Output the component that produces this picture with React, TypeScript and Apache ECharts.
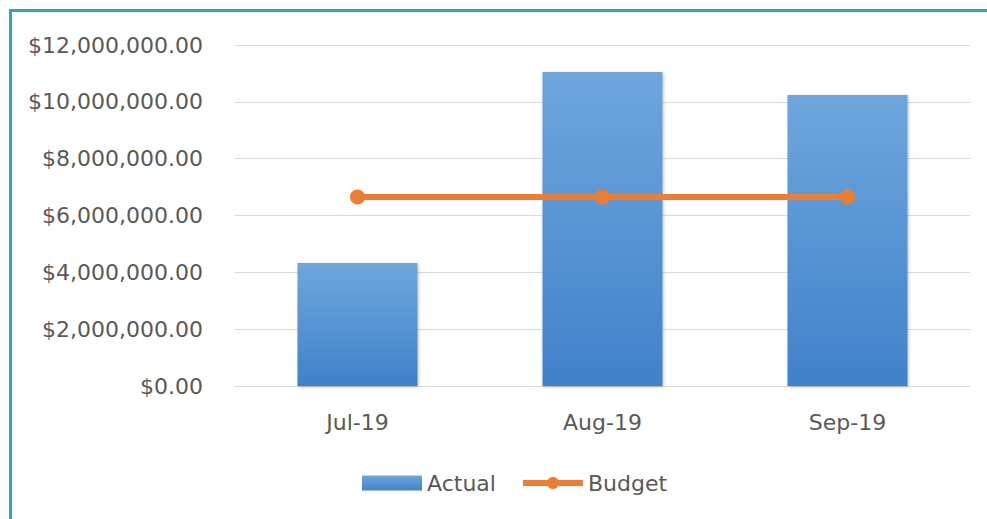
import React, { useEffect, useRef } from "react";
import * as echarts from "echarts";

const categories = ["Jul-19", "Aug-19", "Sep-19"];
const actualValues = [4330000, 11050000, 10240000];
const budgetValues = [6650000, 6650000, 6650000];
const yTicks = { min: 0, max: 12000000, interval: 2000000 };

const fmt = (v: number) =>
  "$" + v.toLocaleString("en-US", { minimumFractionDigits: 2, maximumFractionDigits: 2 });

export default function App() {
  const ref = useRef<HTMLDivElement>(null);
  useEffect(() => {
    if (!ref.current) return;
    const chart = echarts.init(ref.current, null, { renderer: "svg" });
    const font = "'DejaVu Sans', sans-serif";
    chart.setOption({
      animation: false,
      backgroundColor: "#ffffff",
      textStyle: { fontFamily: font },
      graphic: [
        {
          type: "rect",
          shape: { x: 10.5, y: 10.5, width: 1200, height: 800 },
          style: { fill: "none", stroke: "#27a9b9", lineWidth: 3 },
          silent: true,
        },
      ],
      grid: { left: 235, right: 17, top: 45, bottom: 133 },
      legend: {
        top: 467,
        left: 357,
        itemWidth: 60,
        itemHeight: 15,
        itemGap: 24,
        textStyle: { fontSize: 22, color: "#595959", fontFamily: font },
        data: [
          { name: "Actual", icon: "rect" },
          { name: "Budget", lineStyle: { width: 6, color: "#ed7d31" } },
        ],
      },
      xAxis: {
        type: "category",
        data: categories,
        axisTick: { show: false },
        axisLine: { lineStyle: { color: "#d9d9d9", width: 1 } },
        axisLabel: { color: "#595959", fontSize: 22, margin: 25, fontFamily: font },
      },
      yAxis: {
        type: "value",
        min: yTicks.min,
        max: yTicks.max,
        interval: yTicks.interval,
        axisLabel: {
          color: "#595959",
          fontSize: 22,
          margin: 32,
          fontFamily: font,
          formatter: (v: number) => fmt(v),
        },
        splitLine: { lineStyle: { color: "#d9d9d9", width: 1 } },
        axisLine: { show: false },
        axisTick: { show: false },
      },
      series: [
        {
          name: "Actual",
          type: "bar",
          data: actualValues,
          barWidth: "49%",
          itemStyle: {
            color: new echarts.graphic.LinearGradient(0, 0, 0, 1, [
              { offset: 0, color: "#6fa6dd" },
              { offset: 1, color: "#3f82cb" },
            ]),
            shadowBlur: 3,
            shadowColor: "rgba(0,0,0,0.25)",
            shadowOffsetX: 1,
            shadowOffsetY: 1,
          },
        },
        {
          name: "Budget",
          type: "line",
          data: budgetValues,
          symbol: "circle",
          symbolSize: 15,
          lineStyle: { color: "#ed7d31", width: 6 },
          itemStyle: { color: "#ed7d31" },
        },
      ],
    });
    return () => chart.dispose();
  }, []);
  return (
    <div
      ref={ref}
      style={{ position: "fixed", left: 0, top: 0, width: 987, height: 519 }}
    />
  );
}
